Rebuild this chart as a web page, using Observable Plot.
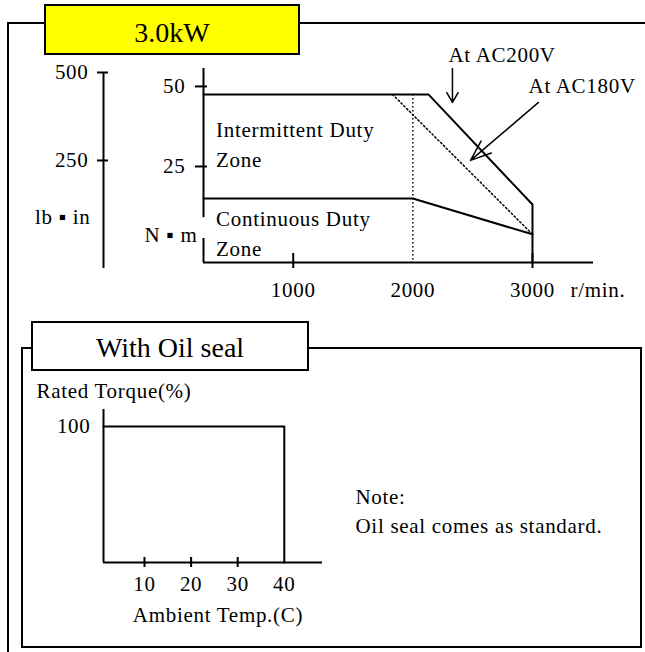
<!DOCTYPE html>
<html>
<head>
<meta charset="utf-8">
<script src="https://cdn.jsdelivr.net/npm/d3@7"></script>
<script src="https://cdn.jsdelivr.net/npm/@observablehq/plot@0.6"></script>
<style>
  html, body { margin: 0; padding: 0; background: #fff; overflow: hidden; }
  #page { position: relative; width: 645px; height: 652px; overflow: hidden;
          font-family: "Liberation Serif", "Times New Roman", serif; color: #000; }
  .abs { position: absolute; box-sizing: border-box; }
  #outer { left: 7px; top: 22px; width: 800px; height: 800px; border: 2px solid #000; }
  #title1 { left: 44px; top: 4px; width: 256px; height: 51px; border: 2px solid #000; background: #ffff00;
            display: flex; align-items: center; justify-content: center; padding-top: 6px; font-size: 28px; }
  #inner { left: 21px; top: 347px; width: 621px; height: 301px; border: 2px solid #000; }
  #title2 { left: 31px; top: 321px; width: 278px; height: 50px; border: 2px solid #000; background: #fff;
            display: flex; align-items: center; justify-content: center; padding-top: 3px; font-size: 28px; }
  .plotwrap { position: absolute; left: 0; }
</style>
</head>
<body>
<div id="page">
  <div id="outer" class="abs"></div>
  <div id="title1" class="abs"></div>
  <div id="inner" class="abs"></div>
  <div id="title2" class="abs"></div>
  <div id="lbwrap" class="plotwrap" style="top:0"></div>
  <div id="topwrap" class="plotwrap" style="top:0"></div>
  <div id="botwrap" class="plotwrap" style="top:370px"></div>
</div>
<script>
// ---------- titles ----------
const panelTitles = ["3.0kW", "With Oil seal"];

// ---------- speed-torque chart ----------
const rpmTicks = [1000, 2000, 3000];
const rpmTickMarks = [1000, 3000];
const rpmAxis = [250, 3510];
const rpmUnit = ["r/min."];
const nmTicks = [25, 50];
const nmAxis = [-5, 55.6];
const nmAxisSegments = [[-5, 2.5], [9, 55.6]];
const nmUnit = ["N ▪ m"];
const lbTicks = [250, 500];
const lbAxis = [-57, 500];
const lbUnit = ["lb ▪ in"];

// AC200V intermittent duty boundary
const ac200Rpm = [0, 2130, 3000, 3000];
const ac200Nm = [47.5, 47.5, 13.1, -5];
// AC180V intermittent boundary (dotted)
const ac180Rpm = [1830, 3000];
const ac180Nm = [47.5, 3.8];
// continuous duty boundary
const contRpm = [0, 2000, 3000];
const contNm = [15, 15, 3.8];
// rated speed marker (dotted vertical)
const ratedSpeedRpm = [2000];

const voltageLabels = ["At AC200V", "At AC180V"];
const voltageLabelRpm = [2298, 2967];
const voltageLabelNm = [59.7, 50];
const arrowFromRpm = [2331, 3050];
const arrowFromNm = [55.6, 45];
const arrowToRpm = [2331, 2482];
const arrowToNm = [45, 26.9];

const zoneLabels = ["Intermittent Duty\nZone", "Continuous Duty\nZone"];
const zoneLabelRpm = [355, 355];
const zoneLabelNm = [32.5, 4.7];

// ---------- oil seal derating chart ----------
const tempTicks = [10, 20, 30, 40];
const tempTickMarks = [10, 20, 30];
const tempAxis = [1.2, 48.2];
const pctTicks = [100];
const pctAxis = [0, 112.5];
const deratingTemp = [0, 40, 40];
const deratingPct = [100, 100, 0];
const yAxisTitle = ["Rated Torque(%)"];
const xAxisTitle = ["Ambient Temp.(C)"];
const noteText = ["Note:\nOil seal comes as standard."];

// ---------- build ----------
document.getElementById("title1").textContent = panelTitles[0];
document.getElementById("title2").textContent = panelTitles[1];

const ac200 = ac200Rpm.map((r, i) => ({rpm: r, nm: ac200Nm[i]}));
const ac180 = ac180Rpm.map((r, i) => ({rpm: r, nm: ac180Nm[i]}));
const cont = contRpm.map((r, i) => ({rpm: r, nm: contNm[i]}));
const vLabels = voltageLabels.map((t, i) => ({text: t, rpm: voltageLabelRpm[i], nm: voltageLabelNm[i]}));
const arrows = arrowFromRpm.map((r, i) => ({x1: r, y1: arrowFromNm[i], x2: arrowToRpm[i], y2: arrowToNm[i]}));
const zLabels = zoneLabels.map((t, i) => ({text: t, rpm: zoneLabelRpm[i], nm: zoneLabelNm[i]}));
const derating = deratingTemp.map((t, i) => ({t, pct: deratingPct[i]}));

const style = {
  fontFamily: '"Liberation Serif", "Times New Roman", serif',
  fontSize: "21px",
  letterSpacing: "0.7px",
  background: "none",
  overflow: "visible",
  color: "#000"
};
const dots = "1.5,2.5";
const plain = d => String(d);

// lb·in axis
const lbPlot = Plot.plot({
  width: 645, height: 310,
  marginLeft: 103, marginRight: 0, marginTop: 72, marginBottom: 42,
  style,
  x: {domain: [0, 1], axis: null},
  y: {domain: lbAxis},
  marks: [
    Plot.ruleX([0], {strokeWidth: 2}),
    Plot.axisY({ticks: lbTicks, tickFormat: plain, tickSize: 11, dx: 5, tickPadding: 9, strokeWidth: 2, label: null}),
    Plot.text(lbUnit, {frameAnchor: "left", y: () => 88, text: d => d, textAnchor: "end", lineAnchor: "middle", dx: -13})
  ]
});
document.getElementById("lbwrap").append(lbPlot);

// N·m / r/min chart
const topPlot = Plot.plot({
  width: 645, height: 310,
  marginLeft: 203, marginRight: 52, marginTop: 68, marginBottom: 48,
  style,
  x: {domain: rpmAxis, clamp: true},
  y: {domain: nmAxis},
  marks: [
    Plot.ruleY([nmAxis[0]], {strokeWidth: 2}),
    Plot.ruleX(nmAxisSegments, {x: () => rpmAxis[0], y1: d => d[0], y2: d => d[1], strokeWidth: 2}),
    Plot.axisY({ticks: nmTicks, tickFormat: plain, tickSize: 12, dx: 4, tickPadding: 10, strokeWidth: 2, label: null}),
    Plot.axisX({ticks: rpmTickMarks, tickSize: 15, dy: -9, fill: "none", strokeWidth: 2, label: null}),
    Plot.axisX({ticks: rpmTicks, tickFormat: plain, tickSize: 0, tickPadding: 20, label: null}),
    Plot.ruleX(ratedSpeedRpm, {y1: () => ac200Nm[0], y2: () => nmAxis[0], strokeWidth: 1.5, strokeDasharray: dots}),
    Plot.line(ac180, {x: "rpm", y: "nm", strokeWidth: 1.5, strokeDasharray: dots}),
    Plot.line(ac200, {x: "rpm", y: "nm", strokeWidth: 2}),
    Plot.line(cont, {x: "rpm", y: "nm", strokeWidth: 2}),
    Plot.arrow(arrows.slice(0, 1), {x1: "x1", y1: "y1", x2: "x2", y2: "y2", strokeWidth: 1.5, headLength: 14, headAngle: 60}),
    Plot.arrow(arrows.slice(1), {x1: "x1", y1: "y1", x2: "x2", y2: "y2", strokeWidth: 1.5, headLength: 22, headAngle: 42}),
    Plot.text(vLabels, {x: "rpm", y: "nm", text: "text", textAnchor: "start", lineAnchor: "middle"}),
    Plot.text(zLabels, {x: "rpm", y: "nm", text: "text", textAnchor: "start", lineAnchor: "middle", lineHeight: 1.43}),
    Plot.text(nmUnit, {frameAnchor: "left", y: () => 3.4, text: d => d, textAnchor: "end", lineAnchor: "middle", dx: -6}),
    Plot.text(rpmUnit, {x: () => 3318, y: () => -13.7, text: d => d, textAnchor: "start", lineAnchor: "middle"})
  ]
});
document.getElementById("topwrap").append(topPlot);

// Oil seal derating chart
const botPlot = Plot.plot({
  width: 645, height: 270,
  marginLeft: 103, marginRight: 323, marginTop: 39, marginBottom: 78,
  style,
  x: {domain: tempAxis, clamp: true},
  y: {domain: pctAxis},
  marks: [
    Plot.ruleY([pctAxis[0]], {strokeWidth: 2}),
    Plot.ruleX([tempAxis[0]], {strokeWidth: 2}),
    Plot.axisY({ticks: pctTicks, tickFormat: plain, tickSize: 0, tickPadding: 13, label: null}),
    Plot.axisX({ticks: tempTickMarks, tickSize: 10, dy: -5, fill: "none", strokeWidth: 2, label: null}),
    Plot.axisX({ticks: tempTicks, tickFormat: plain, tickSize: 0, tickPadding: 14, label: null}),
    Plot.line(derating, {x: "t", y: "pct", strokeWidth: 2}),
    Plot.text(yAxisTitle, {frameAnchor: "top-left", text: d => d, textAnchor: "start", lineAnchor: "middle", dx: -67, dy: -18}),
    Plot.text(xAxisTitle, {frameAnchor: "bottom", text: d => d, textAnchor: "middle", lineAnchor: "middle", dx: 5, dy: 53}),
    Plot.text(noteText, {frameAnchor: "bottom-right", text: d => d, textAnchor: "start", lineAnchor: "middle", lineHeight: 1.36, dx: 33, dy: -53})
  ]
});
document.getElementById("botwrap").append(botPlot);
</script>
</body>
</html>
